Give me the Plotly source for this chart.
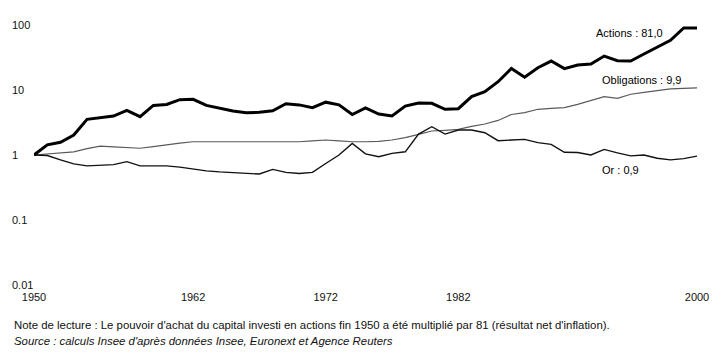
import plotly.graph_objects as go
import math

years = list(range(1950, 2001))

actions = [1.0, 1.43, 1.57, 2.03, 3.54, 3.8, 3.98, 4.87, 3.89, 5.8,
           6.0, 7.1, 7.2, 5.8, 5.2, 4.75, 4.47, 4.54, 4.8, 6.15,
           5.9, 5.35, 6.5, 5.9, 4.2, 5.3, 4.27, 3.98, 5.67, 6.3,
           6.24, 5.05, 5.15, 7.9, 9.4, 13.4, 21.5, 15.7, 22.0, 27.9,
           21.3, 24.3, 25.1, 33.3, 28.2, 27.9, 35.8, 45.4, 58.2, 90.0,
           90.0]

obligations = [1.0, 1.03, 1.07, 1.12, 1.25, 1.37, 1.33, 1.3, 1.27, 1.35,
               1.45, 1.52, 1.6, 1.6, 1.6, 1.6, 1.6, 1.6, 1.62, 1.62,
               1.6, 1.65, 1.7, 1.65, 1.6, 1.6, 1.62, 1.7, 1.85, 2.08,
               2.34, 2.4, 2.48, 2.75, 3.0, 3.4, 4.2, 4.5, 5.05, 5.2,
               5.35, 6.0, 6.8, 7.9, 7.45, 8.6, 9.2, 9.8, 10.4, 10.6,
               10.8]

gold = [1.0, 0.98, 0.84, 0.73, 0.68, 0.69, 0.71, 0.79, 0.68, 0.68,
        0.68, 0.65, 0.61, 0.57, 0.55, 0.54, 0.52, 0.51, 0.60, 0.54,
        0.52, 0.54, 0.74, 1.0, 1.51, 1.04, 0.94, 1.06, 1.12, 2.1,
        2.72, 2.1, 2.42, 2.42, 2.2, 1.66, 1.7, 1.74, 1.55, 1.46,
        1.1, 1.09, 1.0, 1.22, 1.08, 0.97, 1.0, 0.89, 0.84, 0.88,
        0.96]

x_ticks = [1950, 1962, 1972, 1982, 2000]
y_ticks = [100, 10, 1, 0.1, 0.01]
y_tick_text = ["100", "10", "1", "0.1", "0.01"]

series_labels = ["Actions : 81,0", "Obligations : 9,9", "Or : 0,9"]

FONT = "Liberation Sans, Arial, Helvetica, sans-serif"

fig = go.Figure()
fig.add_trace(go.Scatter(x=years, y=obligations, mode="lines",
                         line=dict(color="#5a5a5a", width=1.2), name="Obligations"))
fig.add_trace(go.Scatter(x=years, y=gold, mode="lines",
                         line=dict(color="#111111", width=1.4), name="Or"))
fig.add_trace(go.Scatter(x=years, y=actions, mode="lines",
                         line=dict(color="#000000", width=3), name="Actions"))

annotations = []
for v, t in zip(y_ticks, y_tick_text):
    annotations.append(dict(x=-0.036, xref="paper", y=math.log10(v), yref="y",
                            text=t, showarrow=False, xanchor="left", yanchor="middle",
                            font=dict(family=FONT, size=11, color="#111")))

label_pos = [(0.952, 1.877), (0.981, 1.154), (0.916, -0.231)]
for t, (px, ly) in zip(series_labels, label_pos):
    annotations.append(dict(x=px, xref="paper", y=ly, yref="y",
                            text=t, showarrow=False, xanchor="right", yanchor="middle",
                            font=dict(family=FONT, size=11, color="#000")))

annotations.append(dict(x=-0.033, y=-0.154, xref="paper", yref="paper",
                        text="Note de lecture : Le pouvoir d'achat du capital investi en actions fin 1950 a été multiplié par 81 (résultat net d'inflation).",
                        showarrow=False, xanchor="left", yanchor="middle",
                        font=dict(family=FONT, size=11.4, color="#111")))
annotations.append(dict(x=-0.033, y=-0.215, xref="paper", yref="paper",
                        text="<i>Source : calculs Insee d'après données Insee, Euronext et Agence Reuters</i>",
                        showarrow=False, xanchor="left", yanchor="middle",
                        font=dict(family=FONT, size=11.4, color="#111")))

# page body has an 8px margin, so the figure is sized/offset to compensate
fig.update_layout(
    width=720, height=354,
    margin=dict(l=26, r=31, t=17, b=77, autoexpand=False),
    paper_bgcolor="white", plot_bgcolor="white",
    showlegend=False,
    annotations=annotations,
    xaxis=dict(range=[1950, 2000], tickvals=x_ticks, ticktext=[str(v) for v in x_ticks],
               showgrid=False, zeroline=False, showline=False, ticks="",
               ticklabelstandoff=4, automargin=False,
               tickfont=dict(family=FONT, size=11, color="#111")),
    yaxis=dict(type="log", range=[-2, 2], tickvals=y_ticks, showticklabels=False,
               showgrid=False, zeroline=False, showline=False, ticks="", automargin=False),
)

fig.write_html("out.html")
